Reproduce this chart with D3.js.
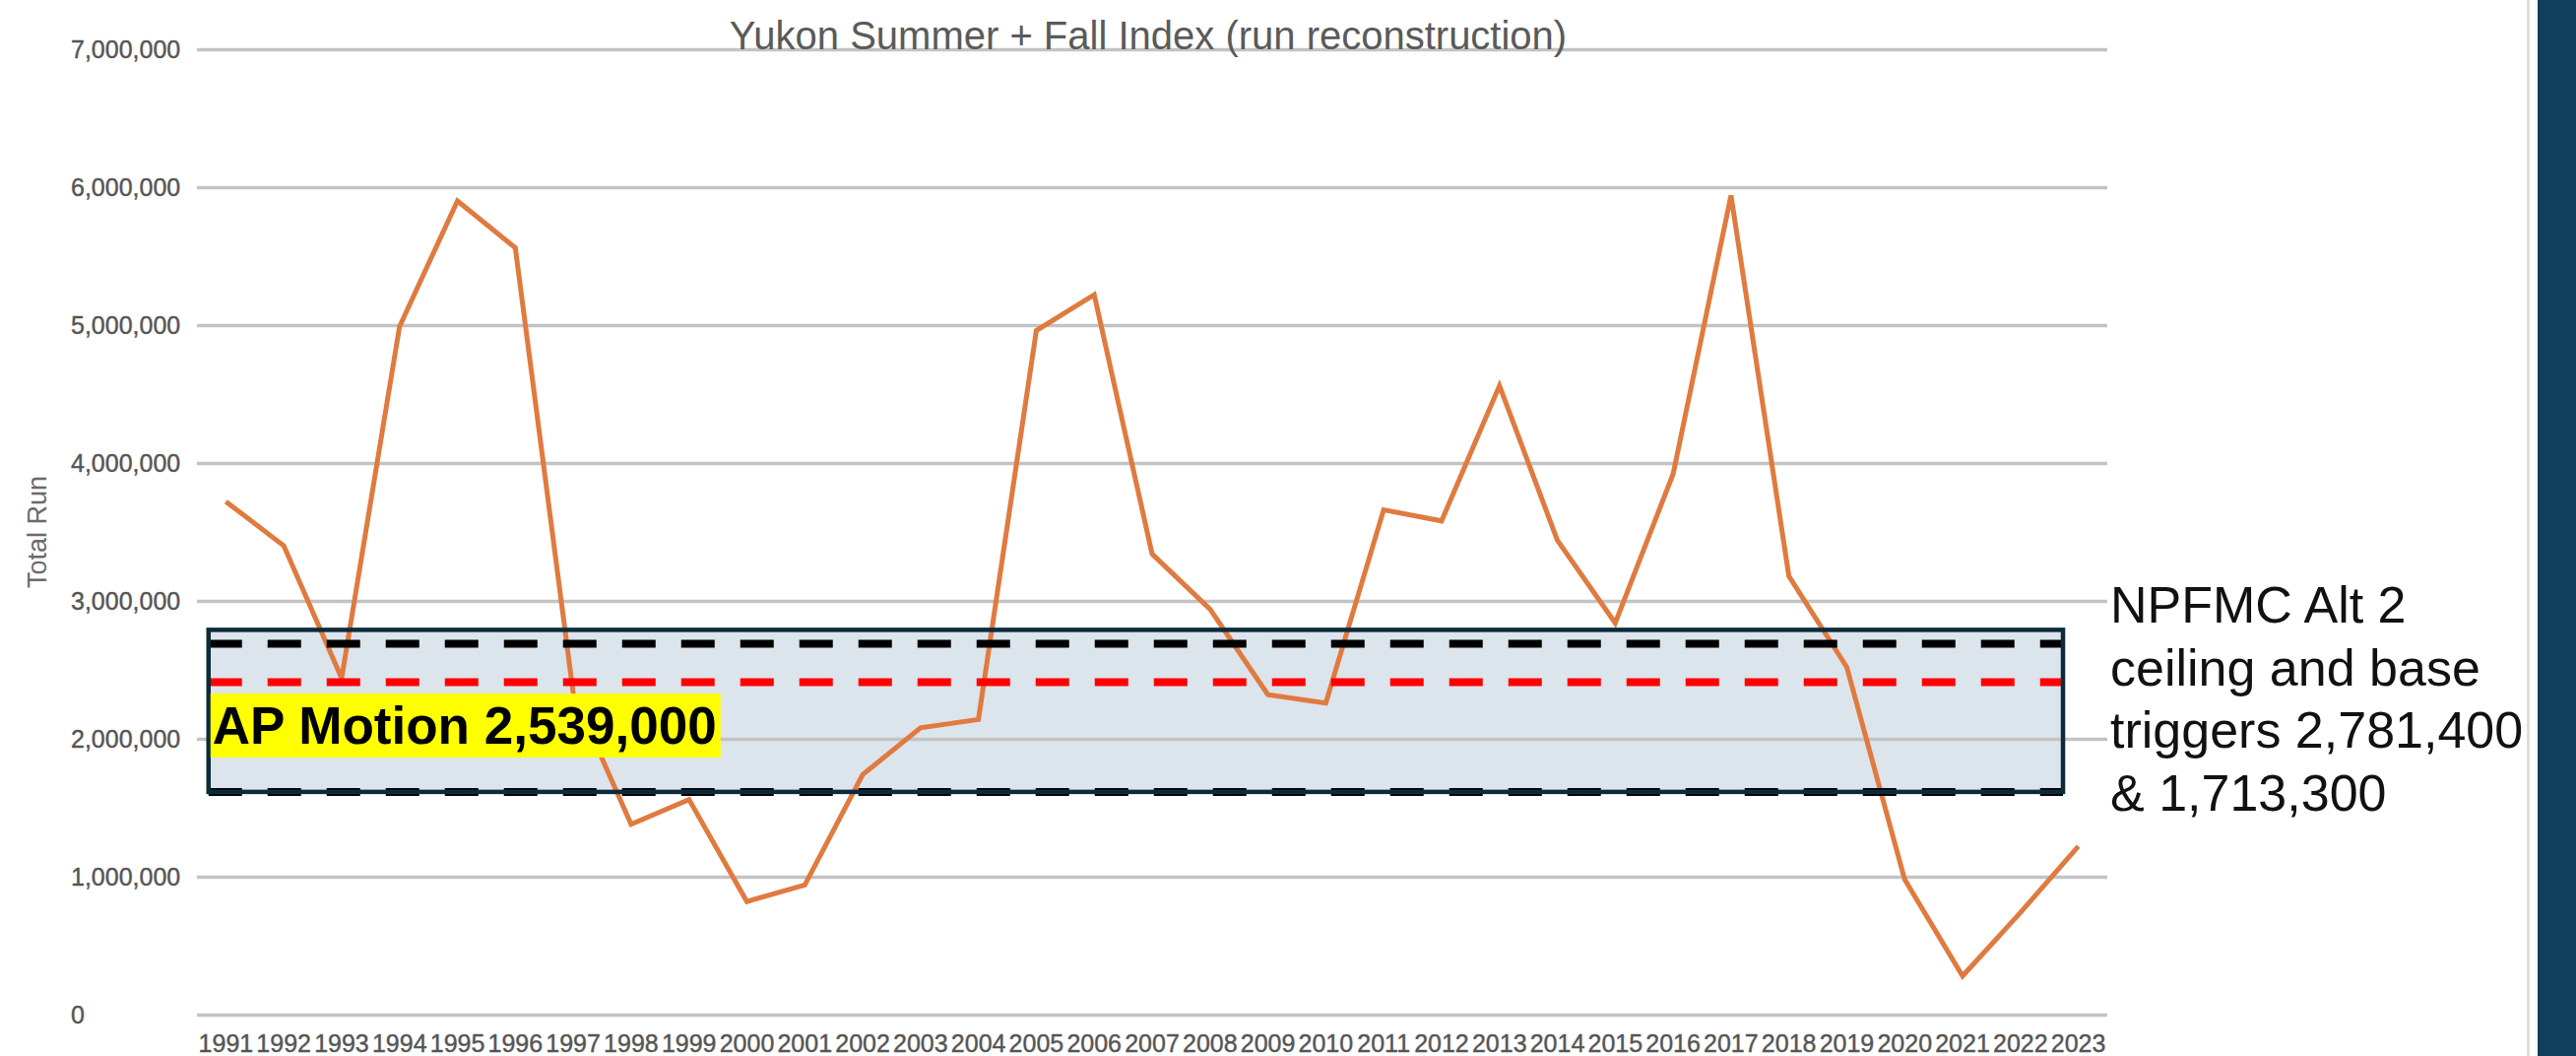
<!DOCTYPE html>
<html>
<head>
<meta charset="utf-8">
<script src="https://cdn.jsdelivr.net/npm/d3@7"></script>
<style>
  html, body { margin: 0; padding: 0; background: #ffffff; }
  svg { display: block; }
  text { font-family: "Liberation Sans", Arial, sans-serif; }
</style>
</head>
<body>
<svg id="chart" width="2616" height="1072"></svg>
<script>
// ---------------- data ----------------
const years = ["1991","1992","1993","1994","1995","1996","1997","1998","1999","2000","2001","2002","2003","2004","2005","2006","2007","2008","2009","2010","2011","2012","2013","2014","2015","2016","2017","2018","2019","2020","2021","2022","2023"];
const totalRun = [3720000,3400000,2440000,4990000,5900000,5560000,2330000,1380000,1560000,820000,940000,1740000,2080000,2140000,4960000,5220000,3340000,2940000,2320000,2260000,3660000,3580000,4560000,3440000,2840000,3920000,5940000,3180000,2520000,980000,280000,740000,1220000];
const yTicks = [0,1000000,2000000,3000000,4000000,5000000,6000000,7000000];
const triggerBox = [1615000, 2790000];        // shaded band as drawn (bottom, top)
const blackDashed = [2690000, 1615000];       // black dashed trigger lines as drawn
const redDashed = [2410000];                  // red dashed AP Motion line as drawn
const titleText = "Yukon Summer + Fall Index (run reconstruction)";
const yAxisTitle = "Total Run";
const apLabel = "AP Motion 2,539,000";
const noteLines = ["NPFMC Alt 2", "ceiling and base", "triggers 2,781,400", "& 1,713,300"];

// ---------------- layout ----------------
const svg = d3.select("#chart");
const plotL = 200, plotR = 2140, plotT = 50, plotB = 1030;

const x = d3.scaleBand().domain(years).range([plotL, plotR]).padding(0);
const bw = x.bandwidth();
const cx = d => x(d) + bw / 2;
const y = d3.scaleLinear().domain([0, 7000000]).range([plotB, plotT]);

// right side decoration (slide edge)
svg.append("rect").attr("x", 2566).attr("y", 0).attr("width", 3).attr("height", 1072).attr("fill", "#dedede");
svg.append("rect").attr("x", 2577).attr("y", 0).attr("width", 39).attr("height", 1072).attr("fill", "#103f5b");

// shaded trigger box fill
const boxL = x(years[0]) + 0.2 * bw;
const boxR = x(years[years.length - 1]) + 0.235 * bw;
svg.append("rect")
  .attr("x", boxL).attr("y", y(triggerBox[1]))
  .attr("width", boxR - boxL).attr("height", y(triggerBox[0]) - y(triggerBox[1]))
  .attr("fill", "#dce4ec");

// y axis with gridlines
const yAxis = d3.axisLeft(y).tickValues(yTicks).tickFormat(d3.format(",")).tickSize(-(plotR - plotL)).tickPadding(0);
const gy = svg.append("g").attr("transform", `translate(${plotL},0)`).call(yAxis);
gy.select(".domain").remove();
gy.selectAll(".tick line").attr("stroke", "#c3c3c3").attr("stroke-width", 3.5);
gy.selectAll(".tick text")
  .attr("x", 72 - plotL).attr("text-anchor", "start")
  .attr("fill", "#555").attr("font-size", 25).attr("dy", "0.35em")
  .attr("stroke", "#555").attr("stroke-width", 0.4);

// x axis
const xAxis = d3.axisBottom(x).tickSize(0).tickPadding(20);
const gx = svg.append("g").attr("transform", `translate(0,${plotB})`).call(xAxis);
gx.select(".domain").remove();
gx.selectAll(".tick text").attr("fill", "#555").attr("font-size", 25)
  .attr("stroke", "#555").attr("stroke-width", 0.4);

// line series
const line = d3.line().x((d, i) => cx(years[i])).y(d => y(d));
svg.append("path").datum(totalRun)
  .attr("d", line)
  .attr("fill", "none").attr("stroke", "#e07a3f").attr("stroke-width", 5)
  .attr("stroke-linejoin", "miter");

// dashed trigger lines
blackDashed.forEach(v => {
  svg.append("line").attr("x1", boxL).attr("x2", boxR).attr("y1", y(v)).attr("y2", y(v))
    .attr("stroke", "#000").attr("stroke-width", 8).attr("stroke-dasharray", "34,26");
});
redDashed.forEach(v => {
  svg.append("line").attr("x1", boxL).attr("x2", boxR).attr("y1", y(v)).attr("y2", y(v))
    .attr("stroke", "#ff0000").attr("stroke-width", 8).attr("stroke-dasharray", "34,26");
});

// box border
svg.append("rect")
  .attr("x", boxL).attr("y", y(triggerBox[1]))
  .attr("width", boxR - boxL).attr("height", y(triggerBox[0]) - y(triggerBox[1]))
  .attr("fill", "none").attr("stroke", "#0c2a3a").attr("stroke-width", 4.5);

// yellow AP Motion label
const labG = svg.append("g");
labG.append("rect").attr("x", boxL + 2).attr("y", 704).attr("width", 518).attr("height", 65).attr("fill", "#ffff00");
labG.append("text").attr("x", boxL + 4).attr("y", 755)
  .attr("font-size", 53).attr("font-weight", "bold").attr("fill", "#000")
  .attr("textLength", 512).attr("lengthAdjust", "spacingAndGlyphs")
  .text(apLabel);

// right annotation
const note = svg.append("text").attr("x", 2143).attr("y", 632).attr("font-size", 52).attr("fill", "#111");
noteLines.forEach((t, i) => {
  note.append("tspan").attr("x", 2143).attr("y", 632 + i * 63.5).text(t);
});

// title
svg.append("text").attr("x", 1166).attr("y", 50).attr("text-anchor", "middle")
  .attr("font-size", 40).attr("fill", "#5a5a5a").text(titleText);

// y axis title
svg.append("text").attr("transform", "translate(47,540) rotate(-90)")
  .attr("text-anchor", "middle").attr("font-size", 27).attr("fill", "#6a6a6a").text(yAxisTitle);
</script>
</body>
</html>
